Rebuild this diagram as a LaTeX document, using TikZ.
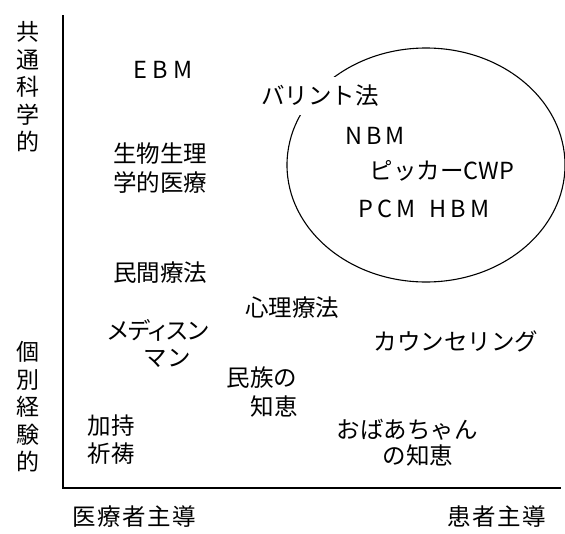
\documentclass[tikz,border=0pt]{standalone}
\usepackage{fontspec}
\setmainfont{Noto Sans CJK JP}
\begin{document}
\begin{tikzpicture}[x=1pt,y=-1pt,
  lab/.style={font=\fontsize{23.5}{29}\selectfont, inner sep=0pt, anchor=center},
  axlab/.style={font=\fontsize{23}{27.5}\selectfont, inner sep=0pt, align=center},
  axis/.style={line width=1.4pt, black},
  ring/.style={line width=1.1pt, black}]
\useasboundingbox (0,0) rectangle (565,533);
% axes
\coordinate (top) at (63,15);
\coordinate (origin) at (63,488);
\coordinate (right) at (561,488);
\draw[axis] (top) -- (origin) -- (right);
% ellipse
\draw[ring] (426,165) ellipse [x radius=139, y radius=117];
% axis labels
\node[axlab] (sci) at (28,87) {共\\通\\科\\学\\的};
\node[axlab] (ind) at (28,407) {個\\別\\経\\験\\的};
\node[lab] (doc) at (134,517) {医\kern1.5pt 療\kern1.5pt 者\kern1.5pt 主\kern1.5pt 導};
\node[lab] (pat) at (497,517) {患\kern1.5pt 者\kern1.5pt 主\kern1.5pt 導};
% items
\node[lab] (ebm) at (163,70) {E\kern5pt B\kern5pt M};
\node[lab, fill=white, inner xsep=3pt, inner ysep=8pt] (balint) at (320,96) {バリント法};
\node[lab] (nbm) at (375,136) {N\kern4pt B\kern4pt M};
\node[lab] (cwp) at (442,171) {ピッカーCWP};
\node[lab] (pcm) at (424,209) {P\kern4pt C\kern4pt M\kern14pt H\kern4pt B\kern4pt M};
\node[lab] (bio1) at (160,154) {生物生理};
\node[lab] (bio2) at (160,183) {学的医療};
\node[lab] (folk) at (160,273) {民間療法};
\node[lab] (psy) at (292,308) {心理療法};
\node[lab, font=\fontsize{23.5}{29}\selectfont\addfontfeature{RawFeature=+palt}] (med1) at (158,330) {メディスン};
\node[lab] (med2) at (167,358) {マン};
\node[lab] (couns) at (456,341) {カウンセリング};
\node[lab] (eth1) at (262,378) {民族の};
\node[lab] (eth2) at (274,407) {知恵};
\node[lab] (pray1) at (111,426) {加持};
\node[lab] (pray2) at (111,454) {祈祷};
\node[lab] (gran1) at (407,430) {おばあちゃん};
\node[lab] (gran2) at (418,456) {の知恵};
\end{tikzpicture}
\end{document}
